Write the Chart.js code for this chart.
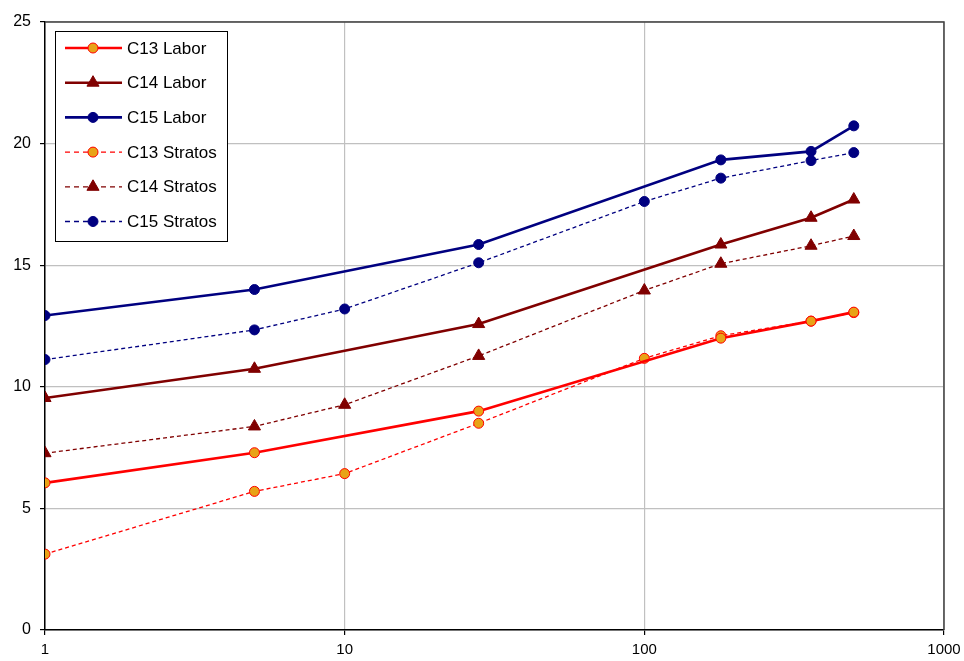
<!DOCTYPE html>
<html>
<head>
<meta charset="utf-8">
<script src="https://cdn.jsdelivr.net/npm/chart.js@4"></script>
<style>
html,body{margin:0;padding:0;background:#fff;}
#wrap{width:964px;height:661px;}
</style>
</head>
<body>
<div id="wrap"><canvas id="c" width="964" height="661"></canvas></div>
<script>
// ---- data ----
const xLabor = [1, 5, 28, 180, 360, 500];
const xStratos = [1, 5, 10, 28, 100, 180, 360, 500];
const c13Labor = [6.05, 7.29, 9.0, 12.0, 12.7, 13.07];
const c14Labor = [9.54, 10.74, 12.58, 15.85, 16.95, 17.7];
const c15Labor = [12.93, 14.0, 15.85, 19.33, 19.68, 20.73];
const c13Stratos = [3.12, 5.7, 6.43, 8.5, 11.17, 12.1, 12.7, 13.05];
const c14Stratos = [7.27, 8.37, 9.26, 11.27, 13.96, 15.06, 15.8, 16.2];
const c15Stratos = [11.12, 12.34, 13.2, 15.1, 17.62, 18.58, 19.3, 19.63];
const xTicks = [1, 10, 100, 1000];
const yTicks = [0, 5, 10, 15, 20, 25];
const seriesNames = ['C13 Labor', 'C14 Labor', 'C15 Labor', 'C13 Stratos', 'C14 Stratos', 'C15 Stratos'];

function pts(xs, ys){ return xs.map((x,i)=>({x:x, y:ys[i]})); }

const RED = '#FF0000', DRED = '#800000', NAVY = '#000080', ORANGE = '#E8A317';

function mk(name, xs, ys, color, style, fill, dashed){
  return {
    label: name,
    data: pts(xs, ys),
    borderColor: color,
    backgroundColor: fill,
    borderWidth: dashed ? 1.3 : 2.6,
    borderDash: dashed ? [4,3] : [],
    pointStyle: style,
    pointRadius: style === 'triangle' ? 7 : 5,
    pointBorderColor: color,
    pointBackgroundColor: fill,
    pointBorderWidth: 1,
    tension: 0,
    fill: false
  };
}

const datasets = [
  mk(seriesNames[0], xLabor, c13Labor, RED, 'circle', ORANGE, false),
  mk(seriesNames[1], xLabor, c14Labor, DRED, 'triangle', DRED, false),
  mk(seriesNames[2], xLabor, c15Labor, NAVY, 'circle', NAVY, false),
  mk(seriesNames[3], xStratos, c13Stratos, RED, 'circle', ORANGE, true),
  mk(seriesNames[4], xStratos, c14Stratos, DRED, 'triangle', DRED, true),
  mk(seriesNames[5], xStratos, c15Stratos, NAVY, 'circle', NAVY, true)
];

function drawMarker(ctx, style, x, y, r, fill, stroke){
  ctx.save();
  ctx.fillStyle = fill; ctx.strokeStyle = stroke; ctx.lineWidth = 1; ctx.setLineDash([]);
  ctx.beginPath();
  if (style === 'triangle'){
    ctx.moveTo(x, y - r);
    ctx.lineTo(x + r*0.866, y + r*0.5);
    ctx.lineTo(x - r*0.866, y + r*0.5);
    ctx.closePath();
  } else {
    ctx.arc(x, y, r, 0, Math.PI*2);
  }
  ctx.fill(); ctx.stroke();
  ctx.restore();
}

const framePlugin = {
  id: 'frame',
  beforeDatasetsDraw(chart){
    const a = chart.chartArea, ctx = chart.ctx;
    ctx.save();
    ctx.strokeStyle = '#404040';
    ctx.lineWidth = 1.5;
    ctx.beginPath();
    ctx.moveTo(a.left, a.top); ctx.lineTo(a.right, a.top); ctx.lineTo(a.right, a.bottom);
    ctx.stroke();
    ctx.restore();
  },
  afterDraw(chart){
    const ctx = chart.ctx;
    const bx = 55.5, by = 31.5, bw = 172, bh = 210;
    ctx.save();
    ctx.fillStyle = '#fff';
    ctx.fillRect(bx, by, bw, bh);
    ctx.strokeStyle = '#000'; ctx.lineWidth = 1;
    ctx.strokeRect(bx, by, bw, bh);
    ctx.font = '17px "Liberation Sans", Arial, sans-serif';
    ctx.textBaseline = 'middle';
    ctx.textAlign = 'left';
    chart.data.datasets.forEach((ds, i) => {
      const y = 48 + i * 34.7;
      ctx.save();
      ctx.strokeStyle = ds.borderColor;
      ctx.lineWidth = ds.borderWidth;
      ctx.setLineDash(ds.borderDash.length ? [5,4] : []);
      ctx.beginPath(); ctx.moveTo(65, y); ctx.lineTo(122, y); ctx.stroke();
      ctx.restore();
      drawMarker(ctx, ds.pointStyle, 93, y, ds.pointRadius, ds.pointBackgroundColor, ds.pointBorderColor);
      ctx.fillStyle = '#000';
      ctx.fillText(ds.label, 127, y + 1);
    });
    ctx.restore();
  }
};

new Chart(document.getElementById('c'), {
  type: 'line',
  data: { datasets: datasets },
  options: {
    responsive: false,
    animation: false,
    events: [],
    layout: { padding: { top: 22, right: 0, left: 0, bottom: 0 } },
    plugins: { legend: { display: false }, tooltip: { enabled: false }, title: { display: false } },
    scales: {
      x: {
        type: 'logarithmic',
        min: 1, max: 1000,
        afterBuildTicks(s){ s.ticks = xTicks.map(v => ({ value: v, major: true })); },
        afterFit(s){ s.height = 31; s.paddingRight = 20; s.paddingLeft = 0; },
        ticks: {
          color: '#000',
          font: { family: '"Liberation Sans", Arial, sans-serif', size: 15 },
          padding: 6,
          maxRotation: 0,
          autoSkip: false,
          callback: (v) => String(v)
        },
        grid: { color: '#c0c0c0', tickColor: '#000', tickLength: 5, lineWidth: 1.2 },
        border: { color: '#000', width: 1.5 }
      },
      y: {
        type: 'linear',
        min: 0, max: 25,
        afterBuildTicks(s){ s.ticks = yTicks.map(v => ({ value: v })); },
        afterFit(s){ s.width = 45; },
        ticks: {
          color: '#000',
          font: { family: '"Liberation Sans", Arial, sans-serif', size: 16 },
          padding: 9
        },
        grid: { color: '#c0c0c0', tickColor: '#000', tickLength: 5, lineWidth: 1.2 },
        border: { color: '#000', width: 1.5 }
      }
    }
  },
  plugins: [framePlugin]
});
</script>
</body>
</html>
